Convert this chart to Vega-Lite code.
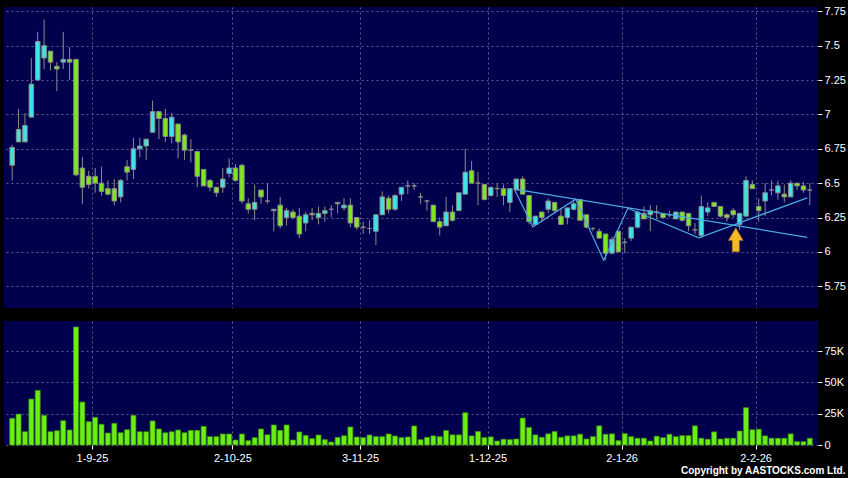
{
  "$schema": "https://vega.github.io/schema/vega-lite/v6.json",
  "background": "#000000",
  "padding": {"left": 4, "top": 5, "right": 2, "bottom": 2},
  "spacing": 13,
  "title": {"text": "Copyright by AASTOCKS.com Ltd.", "orient": "bottom", "anchor": "end", "color": "#ffffff", "font": "Liberation Sans", "fontSize": 10, "fontWeight": "bold", "offset": 3},
  "datasets": {
    "candles": [
      {"i":0,"o":6.63,"h":6.78,"l":6.52,"c":6.76,"v":21300},
      {"i":1,"o":6.80,"h":7.04,"l":6.80,"c":6.89,"v":24700},
      {"i":2,"o":6.80,"h":7.01,"l":6.80,"c":6.92,"v":10600},
      {"i":3,"o":6.98,"h":7.41,"l":6.98,"c":7.22,"v":36700},
      {"i":4,"o":7.25,"h":7.60,"l":7.25,"c":7.53,"v":43600},
      {"i":5,"o":7.41,"h":7.69,"l":7.33,"c":7.50,"v":23700},
      {"i":6,"o":7.46,"h":7.46,"l":7.32,"c":7.38,"v":10600},
      {"i":7,"o":7.35,"h":7.38,"l":7.17,"c":7.33,"v":11400},
      {"i":8,"o":7.38,"h":7.60,"l":7.33,"c":7.40,"v":19400},
      {"i":9,"o":7.40,"h":7.49,"l":7.25,"c":7.38,"v":12000},
      {"i":10,"o":7.40,"h":7.40,"l":6.55,"c":6.56,"v":94200},
      {"i":11,"o":6.61,"h":6.69,"l":6.35,"c":6.47,"v":34300},
      {"i":12,"o":6.55,"h":6.59,"l":6.46,"c":6.49,"v":18600},
      {"i":13,"o":6.55,"h":6.61,"l":6.43,"c":6.50,"v":22100},
      {"i":14,"o":6.50,"h":6.62,"l":6.41,"c":6.44,"v":16500},
      {"i":15,"o":6.46,"h":6.52,"l":6.41,"c":6.42,"v":9600},
      {"i":16,"o":6.46,"h":6.53,"l":6.34,"c":6.37,"v":17300},
      {"i":17,"o":6.40,"h":6.53,"l":6.36,"c":6.52,"v":9800},
      {"i":18,"o":6.62,"h":6.67,"l":6.52,"c":6.58,"v":12200},
      {"i":19,"o":6.60,"h":6.83,"l":6.53,"c":6.75,"v":23700},
      {"i":20,"o":6.75,"h":6.83,"l":6.69,"c":6.77,"v":10600},
      {"i":21,"o":6.77,"h":6.82,"l":6.67,"c":6.82,"v":10600},
      {"i":22,"o":6.87,"h":7.10,"l":6.87,"c":7.02,"v":19200},
      {"i":23,"o":7.02,"h":7.02,"l":6.82,"c":6.97,"v":12800},
      {"i":24,"o":6.97,"h":7.04,"l":6.80,"c":6.84,"v":9800},
      {"i":25,"o":6.84,"h":7.01,"l":6.79,"c":6.98,"v":10600},
      {"i":26,"o":6.93,"h":6.93,"l":6.68,"c":6.80,"v":12000},
      {"i":27,"o":6.85,"h":6.86,"l":6.67,"c":6.74,"v":9800},
      {"i":28,"o":6.74,"h":6.82,"l":6.65,"c":6.74,"v":11700},
      {"i":29,"o":6.73,"h":6.73,"l":6.47,"c":6.55,"v":11700},
      {"i":30,"o":6.60,"h":6.60,"l":6.48,"c":6.48,"v":14900},
      {"i":31,"o":6.52,"h":6.53,"l":6.44,"c":6.47,"v":6700},
      {"i":32,"o":6.47,"h":6.47,"l":6.40,"c":6.43,"v":6700},
      {"i":33,"o":6.47,"h":6.61,"l":6.43,"c":6.53,"v":8800},
      {"i":34,"o":6.57,"h":6.68,"l":6.54,"c":6.61,"v":8800},
      {"i":35,"o":6.61,"h":6.64,"l":6.51,"c":6.52,"v":4000},
      {"i":36,"o":6.63,"h":6.64,"l":6.35,"c":6.37,"v":8800},
      {"i":37,"o":6.35,"h":6.39,"l":6.28,"c":6.31,"v":3500},
      {"i":38,"o":6.31,"h":6.49,"l":6.23,"c":6.36,"v":5900},
      {"i":39,"o":6.45,"h":6.45,"l":6.35,"c":6.40,"v":12800},
      {"i":40,"o":6.37,"h":6.50,"l":6.35,"c":6.37,"v":8200},
      {"i":41,"o":6.30,"h":6.31,"l":6.15,"c":6.31,"v":16000},
      {"i":42,"o":6.34,"h":6.40,"l":6.17,"c":6.19,"v":11700},
      {"i":43,"o":6.25,"h":6.32,"l":6.19,"c":6.30,"v":16000},
      {"i":44,"o":6.29,"h":6.31,"l":6.24,"c":6.25,"v":4000},
      {"i":45,"o":6.26,"h":6.32,"l":6.10,"c":6.13,"v":10400},
      {"i":46,"o":6.21,"h":6.29,"l":6.15,"c":6.27,"v":7700},
      {"i":47,"o":6.28,"h":6.32,"l":6.23,"c":6.27,"v":5100},
      {"i":48,"o":6.25,"h":6.33,"l":6.20,"c":6.28,"v":8000},
      {"i":49,"o":6.28,"h":6.33,"l":6.22,"c":6.30,"v":4300},
      {"i":50,"o":6.31,"h":6.34,"l":6.25,"c":6.31,"v":2400},
      {"i":51,"o":6.36,"h":6.36,"l":6.28,"c":6.35,"v":6100},
      {"i":52,"o":6.32,"h":6.39,"l":6.30,"c":6.34,"v":7400},
      {"i":53,"o":6.34,"h":6.39,"l":6.18,"c":6.21,"v":14400},
      {"i":54,"o":6.25,"h":6.25,"l":6.16,"c":6.18,"v":6400},
      {"i":55,"o":6.18,"h":6.22,"l":6.13,"c":6.18,"v":5900},
      {"i":56,"o":6.17,"h":6.23,"l":6.13,"c":6.17,"v":8000},
      {"i":57,"o":6.15,"h":6.27,"l":6.05,"c":6.27,"v":6700},
      {"i":58,"o":6.27,"h":6.44,"l":6.27,"c":6.40,"v":6700},
      {"i":59,"o":6.39,"h":6.41,"l":6.28,"c":6.31,"v":8800},
      {"i":60,"o":6.31,"h":6.42,"l":6.30,"c":6.41,"v":7200},
      {"i":61,"o":6.42,"h":6.47,"l":6.37,"c":6.47,"v":5900},
      {"i":62,"o":6.48,"h":6.52,"l":6.42,"c":6.48,"v":6400},
      {"i":63,"o":6.48,"h":6.50,"l":6.45,"c":6.48,"v":15200},
      {"i":64,"o":6.40,"h":6.43,"l":6.35,"c":6.40,"v":4300},
      {"i":65,"o":6.37,"h":6.38,"l":6.30,"c":6.37,"v":6100},
      {"i":66,"o":6.34,"h":6.34,"l":6.22,"c":6.22,"v":7300},
      {"i":67,"o":6.22,"h":6.25,"l":6.12,"c":6.18,"v":6700},
      {"i":68,"o":6.19,"h":6.40,"l":6.19,"c":6.29,"v":11600},
      {"i":69,"o":6.29,"h":6.34,"l":6.22,"c":6.23,"v":8100},
      {"i":70,"o":6.30,"h":6.43,"l":6.30,"c":6.43,"v":8100},
      {"i":71,"o":6.42,"h":6.75,"l":6.42,"c":6.58,"v":25800},
      {"i":72,"o":6.59,"h":6.66,"l":6.50,"c":6.50,"v":7300},
      {"i":73,"o":6.50,"h":6.58,"l":6.34,"c":6.50,"v":10800},
      {"i":74,"o":6.49,"h":6.49,"l":6.38,"c":6.38,"v":5900},
      {"i":75,"o":6.41,"h":6.47,"l":6.40,"c":6.47,"v":6500},
      {"i":76,"o":6.46,"h":6.50,"l":6.40,"c":6.46,"v":3200},
      {"i":77,"o":6.46,"h":6.49,"l":6.34,"c":6.41,"v":4600},
      {"i":78,"o":6.36,"h":6.46,"l":6.29,"c":6.46,"v":4300},
      {"i":79,"o":6.45,"h":6.53,"l":6.45,"c":6.53,"v":4800},
      {"i":80,"o":6.53,"h":6.55,"l":6.42,"c":6.42,"v":21500},
      {"i":81,"o":6.41,"h":6.41,"l":6.20,"c":6.22,"v":14000},
      {"i":82,"o":6.20,"h":6.26,"l":6.19,"c":6.26,"v":8100},
      {"i":83,"o":6.29,"h":6.29,"l":6.22,"c":6.25,"v":6200},
      {"i":84,"o":6.31,"h":6.39,"l":6.28,"c":6.37,"v":8900},
      {"i":85,"o":6.36,"h":6.36,"l":6.28,"c":6.30,"v":10800},
      {"i":86,"o":6.26,"h":6.32,"l":6.20,"c":6.20,"v":6200},
      {"i":87,"o":6.25,"h":6.32,"l":6.20,"c":6.32,"v":7300},
      {"i":88,"o":6.31,"h":6.38,"l":6.30,"c":6.35,"v":7300},
      {"i":89,"o":6.38,"h":6.38,"l":6.23,"c":6.23,"v":8600},
      {"i":90,"o":6.27,"h":6.27,"l":6.17,"c":6.18,"v":4800},
      {"i":91,"o":6.17,"h":6.18,"l":6.15,"c":6.17,"v":6700},
      {"i":92,"o":6.15,"h":6.17,"l":6.10,"c":6.10,"v":15300},
      {"i":93,"o":6.13,"h":6.13,"l":5.94,"c":5.99,"v":8600},
      {"i":94,"o":5.99,"h":6.11,"l":5.99,"c":6.09,"v":8900},
      {"i":95,"o":6.15,"h":6.15,"l":6.00,"c":6.00,"v":3500},
      {"i":96,"o":6.07,"h":6.10,"l":5.99,"c":6.07,"v":9100},
      {"i":97,"o":6.10,"h":6.18,"l":6.08,"c":6.18,"v":6700},
      {"i":98,"o":6.18,"h":6.30,"l":6.17,"c":6.29,"v":5400},
      {"i":99,"o":6.28,"h":6.33,"l":6.24,"c":6.24,"v":5400},
      {"i":100,"o":6.27,"h":6.34,"l":6.15,"c":6.30,"v":3200},
      {"i":101,"o":6.29,"h":6.34,"l":6.24,"c":6.29,"v":7000},
      {"i":102,"o":6.28,"h":6.28,"l":6.25,"c":6.25,"v":5900},
      {"i":103,"o":6.27,"h":6.30,"l":6.25,"c":6.27,"v":8600},
      {"i":104,"o":6.24,"h":6.29,"l":6.24,"c":6.29,"v":6700},
      {"i":105,"o":6.29,"h":6.29,"l":6.22,"c":6.23,"v":7500},
      {"i":106,"o":6.28,"h":6.28,"l":6.15,"c":6.19,"v":7500},
      {"i":107,"o":6.16,"h":6.21,"l":6.13,"c":6.16,"v":15300},
      {"i":108,"o":6.12,"h":6.41,"l":6.10,"c":6.33,"v":5400},
      {"i":109,"o":6.29,"h":6.36,"l":6.26,"c":6.32,"v":4600},
      {"i":110,"o":6.36,"h":6.36,"l":6.33,"c":6.33,"v":10500},
      {"i":111,"o":6.33,"h":6.33,"l":6.25,"c":6.26,"v":4800},
      {"i":112,"o":6.27,"h":6.28,"l":6.22,"c":6.25,"v":5400},
      {"i":113,"o":6.30,"h":6.32,"l":6.25,"c":6.27,"v":5400},
      {"i":114,"o":6.20,"h":6.28,"l":6.16,"c":6.28,"v":11200},
      {"i":115,"o":6.26,"h":6.55,"l":6.26,"c":6.52,"v":29800},
      {"i":116,"o":6.49,"h":6.52,"l":6.46,"c":6.46,"v":12200},
      {"i":117,"o":6.33,"h":6.39,"l":6.22,"c":6.30,"v":12600},
      {"i":118,"o":6.37,"h":6.50,"l":6.26,"c":6.43,"v":7300},
      {"i":119,"o":6.45,"h":6.52,"l":6.41,"c":6.45,"v":5400},
      {"i":120,"o":6.43,"h":6.52,"l":6.38,"c":6.48,"v":5400},
      {"i":121,"o":6.42,"h":6.49,"l":6.36,"c":6.40,"v":5400},
      {"i":122,"o":6.40,"h":6.52,"l":6.40,"c":6.50,"v":8900},
      {"i":123,"o":6.50,"h":6.50,"l":6.45,"c":6.48,"v":2700},
      {"i":124,"o":6.48,"h":6.51,"l":6.43,"c":6.45,"v":2700},
      {"i":125,"o":6.45,"h":6.50,"l":6.34,"c":6.45,"v":5400}
    ],
    "lines": [
      {"seg":"z","k":1,"i":78.7,"p":6.456},
      {"seg":"z","k":2,"i":81.6,"p":6.182},
      {"seg":"z","k":3,"i":88.3,"p":6.383},
      {"seg":"z","k":4,"i":92.7,"p":5.939},
      {"seg":"z","k":5,"i":96.5,"p":6.318},
      {"seg":"z","k":6,"i":107.6,"p":6.103},
      {"seg":"z","k":7,"i":124.6,"p":6.393},
      {"seg":"t","k":1,"i":78.7,"p":6.456},
      {"seg":"t","k":2,"i":124.6,"p":6.106}
    ],
    "arrow": [{"i":113.4,"p":6.088}]
  },
  "config": {
    "view": {"stroke": null, "fill": "#00004c"},
    "axis": {"domain": false, "gridColor": "#5c5c8e", "gridDash": [2, 3], "gridWidth": 1, "labelFont": "Liberation Sans", "labelFontSize": 11, "labelColor": "#ffffff", "tickColor": "#ffffff", "tickSize": 4, "labelPadding": 2, "labelOverlap": false, "tickCount": 30, "title": null}
  },
  "vconcat": [
    {
      "width": 814,
      "height": 301,
      "layer": [
        {
          "data": {"name": "candles"},
          "mark": {"type": "rule", "color": "#8c8c8c", "strokeWidth": 1},
          "encoding": {
            "x": {"field": "i", "type": "quantitative", "scale": {"domain": [-0.5, 125.5], "nice": false, "zero": false},
                  "axis": {"values": [12.5, 34.5, 54.5, 74.5, 95.5, 116.5], "labels": false, "ticks": false, "grid": true, "tickCount": 30}},
            "y": {"field": "l", "type": "quantitative", "scale": {"domain": [5.592, 7.781], "nice": false, "zero": false},
                  "axis": {"orient": "right", "values": [5.75, 6, 6.25, 6.5, 6.75, 7, 7.25, 7.5, 7.75], "tickCount": 30, "labelExpr": "'' + datum.value", "grid": true}},
            "y2": {"field": "h"}
          }
        },
        {
          "data": {"name": "candles"},
          "mark": {"type": "bar", "size": 4.5, "stroke": "#8a8a8a", "strokeWidth": 1},
          "encoding": {
            "x": {"field": "i", "type": "quantitative"},
            "y": {"field": "o", "type": "quantitative"},
            "y2": {"field": "c"},
            "fill": {"condition": {"test": "datum.c > datum.o", "value": "#3fe3e6"}, "value": "#7ee81c"}
          }
        },
        {
          "data": {"name": "lines"},
          "mark": {"type": "line", "color": "#4aa8e0", "strokeWidth": 1.2},
          "encoding": {
            "x": {"field": "i", "type": "quantitative"},
            "y": {"field": "p", "type": "quantitative"},
            "detail": {"field": "seg"},
            "order": {"field": "k"}
          }
        },
        {
          "data": {"name": "arrow"},
          "mark": {"type": "point", "filled": true, "shape": "M0,-1L0.62,0.05L0.3,0.05L0.3,1L-0.3,1L-0.3,0.05L-0.62,0.05Z", "size": 576, "fill": "#f3b82c", "stroke": "#9a6400", "strokeWidth": 0.6, "opacity": 1},
          "encoding": {
            "x": {"field": "i", "type": "quantitative"},
            "y": {"field": "p", "type": "quantitative"}
          }
        }
      ]
    },
    {
      "width": 814,
      "height": 124,
      "data": {"name": "candles"},
      "mark": {"type": "bar", "size": 5, "fill": "#6aee14", "stroke": "#3c8c14", "strokeWidth": 0.7},
      "encoding": {
        "x": {"field": "i", "type": "quantitative", "scale": {"domain": [-0.5, 125.5], "nice": false, "zero": false},
              "axis": {"values": [12.5, 34.5, 54.5, 74.5, 95.5, 116.5], "tickCount": 30, "grid": true, "labelExpr": "['1-9-25','2-10-25','3-11-25','1-12-25','2-1-26','2-2-26'][indexof([12.5,34.5,54.5,74.5,95.5,116.5], datum.value)]", "labelPadding": 3}},
        "y": {"field": "v", "type": "quantitative", "scale": {"domain": [0, 99000], "nice": false},
              "axis": {"orient": "right", "values": [0, 25000, 50000, 75000], "tickCount": 30, "grid": true, "labelExpr": "datum.value == 0 ? '0' : (datum.value / 1000) + 'K'"}}
      }
    }
  ]
}
